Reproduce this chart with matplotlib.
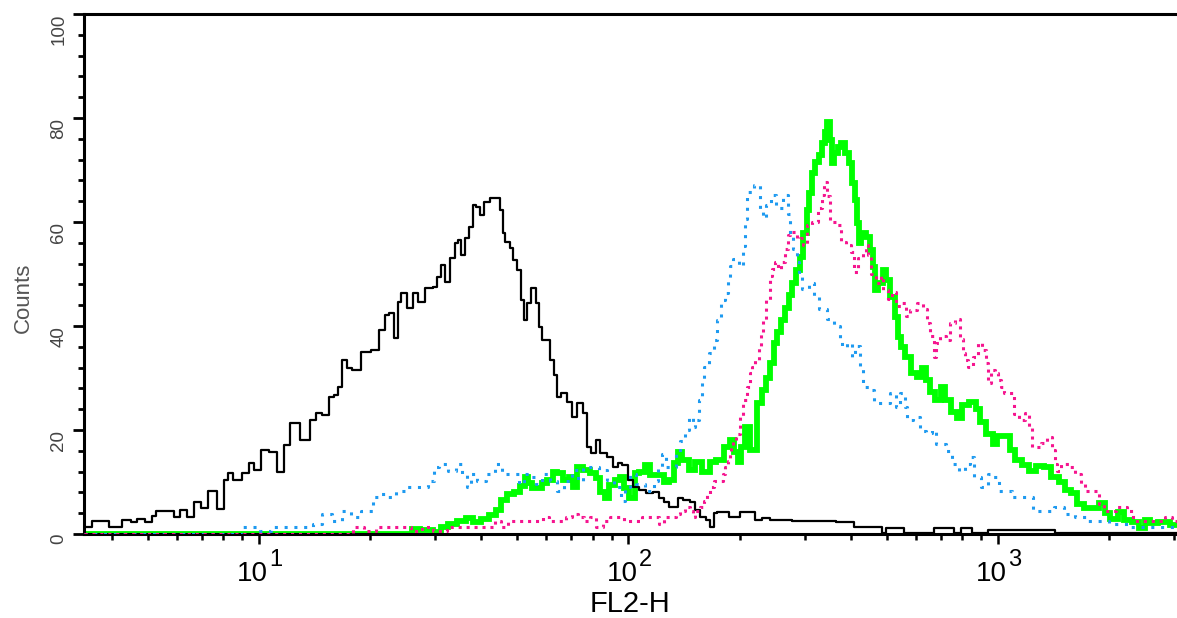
import numpy as np
import matplotlib
matplotlib.use("Agg")
import matplotlib.pyplot as plt
from matplotlib.ticker import MultipleLocator, NullFormatter
from matplotlib.transforms import ScaledTranslation, blended_transform_factory

plt.rcParams['font.family'] = ['Liberation Sans', 'DejaVu Sans']

# FACS histogram data: 256 channels over 4 decades (64 channels / decade)
black_ch = [33.7, 36.5, 39.6, 41.0, 42.5, 43.4, 45.1, 46.0, 46.5, 48.9, 49.8, 51.0, 52.2, 53.3, 54.5,
            55.9, 57.4, 58.5, 58.8, 60.2, 61.9, 62.6, 63.7, 64.9, 66.6, 67.8, 68.8, 70.1, 72.1, 73.5,
            74.4, 75.6, 76.5, 77.5, 77.9, 78.7, 79.9, 80.3, 81.1, 82.4, 84.4, 85.3, 86.2, 87.0, 87.9,
            88.4, 88.9, 90.2, 91.0, 92.2, 93.3, 94.8, 95.0, 95.9, 96.7, 97.6, 98.3, 98.8, 99.3, 100.0,
            100.9, 101.4, 101.9, 102.6, 103.5, 104.4, 105.4, 106.1, 106.3, 107.0, 107.8, 108.3, 109.2,
            109.6, 110.1, 110.6, 111.5, 112.3, 112.7, 113.2, 114.1, 114.7, 115.6, 115.8, 116.7, 117.9,
            118.7, 119.6, 120.5, 121.0, 121.9, 122.7, 123.6, 124.8, 125.7, 126.5, 127.4, 128.3, 129.1,
            130.5, 131.7, 132.9, 133.5, 134.7, 135.5, 136.4, 136.9, 138.1, 139.2, 140.0, 140.9, 141.8,
            142.5, 143.0, 143.8, 146.8, 147.7, 149.6, 150.3, 152.0, 153.0, 154.8, 157.7, 161.2, 166.4,
            167.6, 171.6, 172.1, 173.0, 175.5, 175.9, 180.6, 181.1, 184.2, 184.5, 186.6, 188.4, 192.0,
            194.1, 201.0, 202.7, 209.7, 223.0]
black_counts = [1.3, 2.5, 1.3, 2.7, 2.3, 2.9, 2.3, 3.5, 4.4, 4.4, 3.3, 4.6, 3.3, 6.2, 5.0,
                8.3, 4.8, 10.4, 11.7, 10.4, 11.7, 13.7, 12.3, 16.2, 15.8, 11.9, 17.1, 21.3, 18.1, 21.9,
                23.3, 22.9, 26.3, 26.7, 28.3, 33.5, 31.9, 31.5, 31.5, 35.0, 35.4, 39.2, 42.1, 42.5, 37.7,
                44.6, 46.3, 43.5, 46.3, 44.6, 47.3, 47.5, 49.4, 51.7, 48.5, 53.1, 56.0, 56.5, 53.7, 56.9,
                59.0, 63.3, 62.9, 61.3, 63.8, 64.6, 64.6, 62.3, 57.9, 56.2, 55.0, 52.7, 50.8,
                45.0, 41.2, 44.4, 47.3, 44.4, 39.8, 37.3, 37.3, 33.5, 30.6, 26.3, 27.1, 25.4,
                22.5, 25.2, 23.3, 16.7, 15.6, 18.1, 15.6, 14.8, 12.9, 13.7, 13.3, 10.4, 9.0,
                8.5, 7.9, 8.1, 6.9, 6.2, 5.2, 5.2, 6.9, 6.5, 6.2, 4.6, 3.3, 2.7,
                1.3, 4.0, 4.2, 3.3, 4.2, 4.2, 2.7, 3.1, 2.7, 2.7, 2.5, 2.5, 2.3,
                1.3, 1.3, 0.2, 1.2, 1.2, 0.2, 0.2, 1.2, 1.2, 0.2, 1.2, 0.2, 0.8,
                0.8, 0.8, 0.2, 0.2, 0.2]

blue_ch = [33.7, 60.7, 61.6, 63.7, 64.5, 67.6, 69.7, 71.6, 72.7, 74.0, 75.8, 77.5, 79.2, 80.8, 82.4,
           83.2, 84.3, 85.3, 86.9, 88.4, 90.3, 92.4, 94.0, 94.5, 95.9, 97.4, 99.0, 99.5, 100.5, 101.1,
           102.5, 104.0, 105.6, 106.6, 108.5, 109.6, 110.1, 111.8, 112.2, 113.7, 115.1, 116.1, 117.7,
           118.7, 119.8, 120.6, 122.2, 123.6, 124.8, 126.2, 127.2, 127.7, 128.8, 129.8, 131.9, 132.8,
           133.3, 134.3, 134.8, 135.9, 136.4, 137.4, 138.1, 139.0, 139.3, 139.9, 140.6, 140.9, 141.4,
           142.6, 143.0, 143.5, 144.5, 145.1, 145.4, 145.6, 146.6, 147.7, 148.0, 148.4, 148.7, 150.6,
           151.1, 151.6, 152.2, 153.0, 154.2, 155.3, 155.8, 156.3, 156.8, 157.4, 157.5, 158.7, 159.8,
           160.3, 161.7, 162.9, 164.3, 164.8, 165.1, 166.5, 166.9, 167.7, 168.4, 169.0, 170.3, 170.9,
           171.9, 172.8, 173.8, 174.7, 175.5, 176.2, 176.4, 178.0, 179.0, 180.0, 181.1, 181.4, 182.5,
           183.5, 184.5, 186.1, 186.6, 187.7, 188.0, 190.1, 190.6, 191.7, 192.7, 193.7, 195.1, 197.2,
           198.8, 200.7, 202.7, 204.3, 206.4, 208.3, 210.5, 211.9, 214.3, 215.9, 218.0, 219.7, 223.0]
blue_counts = [0.0, 0.0, 1.3, 1.3, 0.6, 1.3, 1.3, 1.3, 1.3, 1.9, 3.8, 2.5, 4.4, 3.3, 4.4,
               4.4, 7.1, 7.7, 7.1, 8.3, 9.0, 9.0, 10.2, 12.9, 13.5, 12.1, 13.5, 11.5, 9.0, 11.5,
               10.2, 11.5, 13.5, 11.5, 11.5, 9.6, 11.5, 11.0, 9.6, 11.5, 10.2, 8.3, 10.2,
               12.3, 10.2, 12.9, 12.9, 12.3, 10.4, 9.0, 6.3, 9.0, 11.5, 9.6, 8.3, 10.2,
               12.9, 15.4, 12.9, 12.9, 15.4, 17.9, 20.0, 22.5, 20.6, 21.9, 25.8, 29.6, 32.1,
               34.8, 37.3, 41.2, 45.0, 46.3, 49.0, 51.5, 52.9, 51.5, 55.4, 60.6, 65.8, 67.1,
               62.5, 60.8, 63.3, 65.2, 62.7, 65.2, 61.5, 57.5, 54.8, 52.3, 49.8, 47.1, 48.3,
               45.8, 43.3, 41.3, 40.0, 37.3, 36.0, 36.7, 34.0, 36.2, 32.0, 28.3, 27.7, 25.2,
               25.2, 25.2, 27.1, 24.4, 27.1, 24.4, 21.9, 22.5, 19.8, 19.5, 20.0, 17.3, 17.3,
               16.0, 13.5, 12.1, 13.5, 14.8, 11.0, 9.0, 11.5, 11.0, 8.3, 8.3, 7.1, 7.1,
               4.4, 4.4, 5.2, 3.8, 3.3, 2.5, 2.5, 1.9, 1.9, 1.3, 1.3, 1.3, 1.3]

pink_ch = [33.7, 79.8, 80.6, 83.6, 85.0, 89.8, 91.0, 93.3, 94.8, 98.3, 104.4, 105.4, 106.6, 107.6,
           112.7, 113.7, 114.9, 116.7, 117.7, 118.7, 119.8, 120.8, 121.7, 123.2, 123.8, 125.8, 126.9,
           127.7, 129.8, 131.0, 132.9, 133.6, 134.8, 135.9, 136.4, 137.4, 138.3, 139.0, 139.3, 139.9,
           140.9, 141.4, 141.9, 142.5, 143.0, 144.4, 144.5, 145.1, 145.4, 145.6, 145.9, 146.4, 147.0,
           147.7, 148.0, 149.0, 149.2, 149.6, 150.3, 150.8, 151.1, 151.6, 152.2, 152.7, 153.0, 153.7,
           154.2, 154.8, 155.3, 155.8, 156.3, 156.8, 157.4, 157.9, 158.7, 159.1, 160.5, 161.3, 161.7,
           162.0, 162.7, 163.2, 164.6, 165.1, 166.2, 166.9, 167.2, 168.4, 169.0, 169.3, 169.8, 170.3,
           171.4, 171.9, 172.4, 173.5, 173.8, 174.7, 175.9, 176.2, 177.4, 178.5, 179.5, 180.0, 180.6,
           181.1, 181.4, 182.5, 183.5, 184.0, 185.1, 185.6, 186.1, 186.6, 187.1, 188.2, 188.7, 189.6,
           190.1, 190.3, 191.1, 191.7, 192.2, 192.7, 193.2, 194.6, 195.1, 196.2, 197.2, 197.7, 198.2,
           198.8, 200.0, 201.0, 201.7, 202.2, 202.4, 203.3, 204.3, 204.8, 205.9, 206.7, 207.4, 209.1,
           209.8, 210.9, 211.9, 212.8, 213.8, 214.8, 216.1, 217.5, 220.4, 221.4, 223.0]
pink_counts = [0.0, 0.0, 1.3, 0.6, 1.3, 1.3, 0.6, 1.3, 0.6, 1.3, 1.3, 2.5, 1.3, 2.5,
               2.5, 3.3, 2.5, 2.5, 3.3, 3.8, 3.3, 2.5, 3.3, 1.3, 2.5, 3.3, 3.3,
               2.5, 2.5, 3.3, 3.3, 1.9, 3.3, 3.3, 3.8, 4.4, 5.2, 4.4, 3.3, 4.4,
               5.2, 6.3, 7.7, 9.0, 10.2, 10.2, 11.5, 12.9, 14.0, 15.6, 16.7, 17.9, 19.2,
               22.6, 25.8, 28.3, 31.0, 32.1, 33.5, 36.2, 38.7, 41.2, 45.0, 49.6, 51.0, 52.3,
               51.0, 52.3, 54.8, 57.5, 58.1, 58.0, 56.7, 56.9, 55.6, 59.4, 60.0, 62.7, 65.2,
               67.7, 65.0, 60.0, 59.4, 56.2, 55.6, 54.2, 50.3, 53.1, 54.2, 55.6, 53.6, 50.0,
               48.3, 49.6, 46.9, 45.2, 46.5, 43.8, 44.4, 41.9, 43.1, 44.4, 43.3, 40.6, 38.1,
               34.0, 36.7, 38.1, 37.3, 40.6, 41.3, 37.5, 34.8, 33.5, 32.1, 34.0, 36.7, 35.4,
               32.9, 29.0, 31.5, 31.0, 29.6, 28.3, 27.1, 27.1, 23.1, 21.9, 23.3, 20.6, 16.7,
               16.7, 17.5, 18.7, 16.2, 13.5, 12.1, 13.5, 13.5, 12.9, 11.5, 9.6, 8.3, 8.3,
               5.8, 4.4, 4.4, 5.2, 5.2, 4.4, 2.5, 2.5, 2.5, 3.3, 2.5]

green_ch = [33.7, 90.2, 90.7, 93.1, 95.0, 95.9, 97.4, 99.3, 100.5, 101.8, 103.1, 104.5, 105.7, 106.3,
            107.5, 108.7, 109.7, 110.4, 110.9, 111.8, 112.7, 113.5, 114.4, 115.3, 116.1, 117.3, 118.2,
            118.7, 119.6, 120.8, 121.9, 122.7, 123.6, 124.3, 125.1, 126.2, 126.9, 127.7, 128.6, 129.5,
            130.3, 131.4, 132.2, 133.5, 134.7, 135.5, 136.1, 136.9, 137.8, 139.0, 140.0, 141.6, 142.6,
            143.8, 145.1, 145.9, 146.8, 147.3, 147.8, 148.5, 149.6, 150.8, 151.3, 152.2, 152.9, 153.4,
            154.2, 154.8, 155.5, 156.0, 156.5, 157.4, 158.0, 158.6, 159.1, 159.6, 160.0, 160.6, 161.3,
            161.7, 162.2, 162.6, 163.1, 163.4, 163.9, 164.5, 165.1, 166.0, 166.4, 166.9, 167.4, 167.7,
            168.1, 168.6, 169.5, 170.2, 170.5, 171.0, 171.6, 172.4, 172.9, 173.8, 174.5, 175.0, 175.5,
            176.4, 177.3, 178.5, 179.2, 179.9, 180.7, 181.6, 182.5, 183.3, 184.5, 185.4, 186.2, 187.7,
            188.5, 189.4, 190.6, 191.5, 192.3, 193.6, 194.4, 195.5, 196.7, 197.9, 199.3, 200.5, 201.9,
            203.1, 204.1, 205.3, 206.2, 207.4, 209.1, 210.0, 210.9, 211.9, 213.5, 214.3, 216.1, 216.9,
            218.0, 218.8, 220.6, 223.0]
green_counts = [0.0, 0.0, 1.0, 0.8, 0.4, 1.3, 1.9, 2.5, 3.1, 2.3, 2.9, 3.7, 4.6, 6.5,
                7.7, 8.1, 9.2, 11.0, 9.8, 8.8, 8.8, 9.8, 10.4, 11.9, 11.7, 10.4, 11.0,
                9.0, 12.9, 12.3, 11.7, 10.8, 8.1, 6.9, 9.4, 10.4, 11.0, 8.8, 6.9, 11.7,
                11.9, 13.3, 11.3, 11.3, 10.0, 10.4, 13.7, 15.8, 14.2, 12.3, 13.8, 11.9, 13.8,
                14.2, 16.7, 18.1, 15.8, 13.8, 16.7, 20.6, 16.2, 25.2, 27.7, 30.0, 32.9, 36.7,
                38.8, 41.2, 43.5, 46.0, 48.3, 50.8, 53.3, 57.9, 62.3, 65.6, 69.4, 71.5, 72.9,
                75.2, 77.3, 79.2, 75.8, 71.3, 73.3, 74.4, 75.2, 73.3, 71.3, 67.5, 64.2, 59.8,
                56.0, 57.9, 57.1, 54.6, 51.3, 46.9, 48.3, 50.8, 48.8, 45.6, 41.7, 37.9, 36.0,
                34.0, 31.0, 30.2, 31.9, 29.6, 27.3, 25.8, 28.3, 25.8, 23.5, 22.3, 24.8, 25.4,
                24.0, 21.5, 19.2, 17.3, 18.8, 18.8, 16.2, 14.2, 13.3, 12.1, 13.1, 12.9, 11.0,
                10.0, 8.5, 7.9, 5.8, 5.0, 5.0, 6.0, 4.0, 2.9, 4.2, 2.7, 2.3, 1.2,
                2.7, 2.1, 2.3, 1.7]

y_ticks = [0, 20, 40, 60, 80, 100]
decades = [1, 2, 3]


def to_fl2(ch):
    return 10 ** (np.asarray(ch) / 64.0)


fig = plt.figure(figsize=(11.77, 6.18), dpi=100)
ax = fig.add_axes([84 / 1177, 1 - 534 / 618, 1 - 84 / 1177, 520 / 618])

ax.plot(to_fl2(green_ch), green_counts, color='#00ff00', lw=4.2, drawstyle='steps-mid',
        solid_joinstyle='miter', zorder=2)
ax.plot(to_fl2(black_ch), black_counts, color='black', lw=1.6, drawstyle='steps-mid', zorder=3)
ax.plot(to_fl2(blue_ch), blue_counts, color='#1e9af0', lw=2.2, ls=(0, (1, 2.2)),
        drawstyle='steps-mid', zorder=4)
ax.plot(to_fl2(pink_ch), pink_counts, color='#f5158f', lw=2.2, ls=(0, (1, 1.6)),
        drawstyle='steps-mid', zorder=5)

ax.set_xscale('log')
ax.set_xlim(to_fl2(33.7), to_fl2(223.0))
ax.set_ylim(0, 100)

for side in ['top', 'left', 'bottom']:
    ax.spines[side].set_linewidth(2.2)
ax.spines['right'].set_visible(False)

ax.set_yticks(y_ticks)
ax.yaxis.set_minor_locator(MultipleLocator(4))
ax.set_yticklabels([str(v) for v in y_ticks], rotation=90, va='top', fontsize=13.5,
                   color='#444444')
for lbl in ax.get_yticklabels():
    lbl.set_transform(lbl.get_transform() + ScaledTranslation(0, 4 / 100, fig.dpi_scale_trans))
ax.tick_params(axis='y', which='major', length=8, width=2, pad=4, direction='out')
ax.tick_params(axis='y', which='minor', length=4, width=2, direction='out')
ax.tick_params(axis='x', which='major', length=7, width=1.8, direction='out')
ax.tick_params(axis='x', which='minor', length=4.5, width=1.8, direction='out')
ax.xaxis.set_major_formatter(NullFormatter())
ax.xaxis.set_minor_formatter(NullFormatter())

# decade labels: "10" with a near full-size exponent
trans = blended_transform_factory(ax.transData, ax.transAxes)
for d in decades:
    base = ax.text(10 ** d, 0, '10', fontsize=20, ha='right', va='baseline', transform=trans)
    base.set_transform(trans + ScaledTranslation(6.5 / 72, -34 / 72, fig.dpi_scale_trans))
    exp = ax.text(10 ** d, 0, str(d), fontsize=17, ha='left', va='baseline', transform=trans)
    exp.set_transform(trans + ScaledTranslation(7.5 / 72, -23 / 72, fig.dpi_scale_trans))

ax.set_xlabel('FL2-H', fontsize=21, labelpad=30)
ax.set_ylabel('Counts', fontsize=16, color='#555555')
ax.yaxis.set_label_coords(-0.046, 0.455)

fig.savefig('out.png', dpi=100)
